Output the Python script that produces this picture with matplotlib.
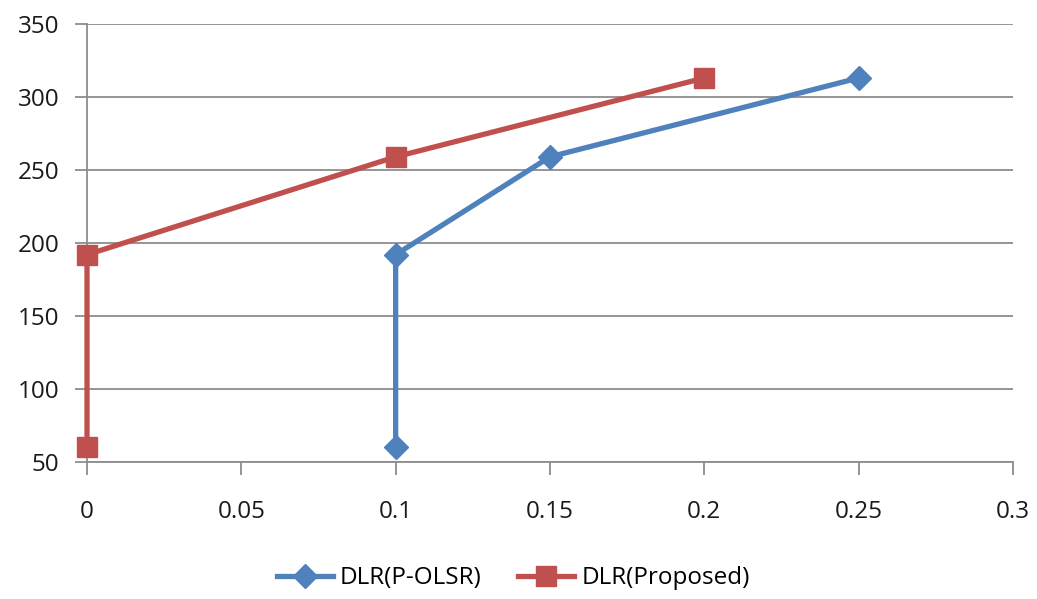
import matplotlib
matplotlib.use('Agg')
import matplotlib.pyplot as plt

# series values
x_polsr = [0.1, 0.1, 0.15, 0.25]
y_polsr = [60, 192, 259, 313]
x_proposed = [0, 0, 0.1, 0.2]
y_proposed = [60, 192, 259, 313]

x_ticks = [0, 0.05, 0.1, 0.15, 0.2, 0.25, 0.3]
x_labels = ['0', '0.05', '0.1', '0.15', '0.2', '0.25', '0.3']
y_ticks = [50, 100, 150, 200, 250, 300, 350]

plt.rcParams['font.family'] = ['Open Sans', 'DejaVu Sans']

fig = plt.figure(figsize=(10.37, 5.99), dpi=100)
ax = fig.add_axes([0.0839, 0.2287, 0.8929, 0.7313])

grid_color = '#8c8c8c'
ax.set_xlim(0, 0.3)
ax.set_ylim(50, 350)
ax.set_xticks(x_ticks)
ax.set_xticklabels(x_labels)
ax.set_yticks(y_ticks)
ax.yaxis.grid(True, color=grid_color, linewidth=1.3)
ax.set_axisbelow(True)

for side in ['top', 'right']:
    ax.spines[side].set_visible(False)
for side in ['left', 'bottom']:
    ax.spines[side].set_color(grid_color)
    ax.spines[side].set_linewidth(1.3)

ax.tick_params(axis='both', colors=grid_color, width=1.3, length=9,
               labelsize=17.5, labelcolor='#1a1a1a')
ax.tick_params(axis='x', pad=18)
ax.tick_params(axis='y', pad=11)

ax.plot(x_polsr, y_polsr, color='#4F81BD', linewidth=3.8, marker='D',
        markersize=12, label='DLR(P-OLSR)', clip_on=False, zorder=3)
ax.plot(x_proposed, y_proposed, color='#C0504D', linewidth=3.8, marker='s',
        markersize=14, label='DLR(Proposed)', clip_on=False, zorder=3)

fig.legend(loc='lower center', bbox_to_anchor=(0.495, -0.022), ncol=2,
           frameon=False, fontsize=17.5, handlelength=2.3, columnspacing=1.5,
           handletextpad=0.3)

fig.savefig('out.png', dpi=100)
plt.close('all')
